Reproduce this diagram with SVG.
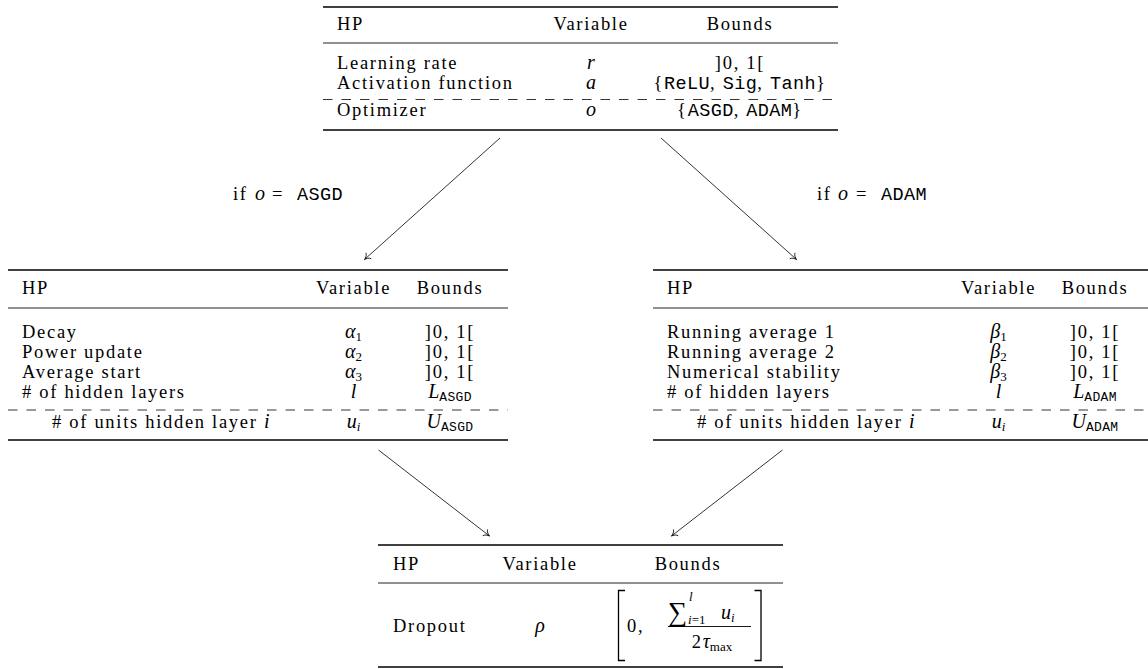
<svg xmlns="http://www.w3.org/2000/svg" width="1148" height="669" viewBox="0 0 1148 669">
  <style>
    .t { font-family: "Liberation Serif", "Times New Roman", serif; font-size: 18.5px; letter-spacing: 1.7px; fill: #000; }
    .m { font-style: italic; letter-spacing: 0; font-size: 20px; }
    .tt { font-family: "Liberation Mono", "Courier New", monospace; font-size: 18.5px; letter-spacing: 0.4px; font-style: normal; }
    .sub { font-size: 13px; letter-spacing: 0; }
    .up { font-style: normal; }
    .ttsub { font-family: "Liberation Mono", "Courier New", monospace; font-size: 13px; letter-spacing: 0.3px; font-style: normal; }
    .c { text-anchor: middle; }
    .heavy { stroke: #000; stroke-width: 1.6; fill: none; }
    .light { stroke: #222; stroke-width: 1; fill: none; }
    .dash { stroke: #000; stroke-width: 0.8; stroke-dasharray: 9.5 9; fill: none; }
    .edge { stroke: #000; stroke-width: 0.8; fill: none; marker-end: url(#arrow); }
    .delim { stroke: #000; stroke-width: 1.3; fill: none; }
  </style>
  <defs>
    <marker id="arrow" viewBox="-7 -5 8 10" refX="0" refY="0" markerWidth="8" markerHeight="10" markerUnits="userSpaceOnUse" orient="auto" overflow="visible">
      <path d="M -5.5 -4 C -5 -1.8 -1.8 -0.4 0 0 C -1.8 0.4 -5 1.8 -5.5 4" fill="none" stroke="#000" stroke-width="0.8"/>
    </marker>
  </defs>
  <rect width="1148" height="669" fill="#fff"/>

  <!-- shared hyperparameters -->
  <g id="table-base">
    <line class="heavy" x1="323" y1="7" x2="838" y2="7"/>
    <text class="t" x="337" y="30">HP</text>
    <text class="t c" x="591" y="30">Variable</text>
    <text class="t c" x="740" y="30">Bounds</text>
    <line class="light" x1="323" y1="43" x2="838" y2="43"/>
    <text class="t" x="337" y="69">Learning rate</text>
    <text class="t m c" x="591" y="69">r</text>
    <text class="t c" x="740" y="69">]0, 1[</text>
    <text class="t" x="337" y="89">Activation function</text>
    <text class="t m c" x="591" y="89">a</text>
    <text class="t c" x="740" y="89">{<tspan class="tt">ReLU</tspan>, <tspan class="tt">Sig</tspan>, <tspan class="tt">Tanh</tspan>}</text>
    <line class="dash" x1="323" y1="99.5" x2="838" y2="99.5"/>
    <text class="t" x="337" y="116">Optimizer</text>
    <text class="t m c" x="591" y="116">o</text>
    <text class="t c" x="740" y="116">{<tspan class="tt">ASGD</tspan>, <tspan class="tt">ADAM</tspan>}</text>
    <line class="heavy" x1="323" y1="130" x2="838" y2="130"/>
  </g>

  <!-- ASGD branch -->
  <g id="table-asgd">
    <line class="heavy" x1="8" y1="270" x2="508" y2="270"/>
    <text class="t" x="22" y="294">HP</text>
    <text class="t c" x="353.5" y="294">Variable</text>
    <text class="t c" x="450" y="294">Bounds</text>
    <line class="light" x1="8" y1="308" x2="508" y2="308"/>
    <text class="t" x="22" y="338">Decay</text>
    <text class="t m c" x="353.5" y="338">α<tspan class="sub up" dy="3">1</tspan></text>
    <text class="t c" x="450" y="338">]0, 1[</text>
    <text class="t" x="22" y="358">Power update</text>
    <text class="t m c" x="353.5" y="358">α<tspan class="sub up" dy="3">2</tspan></text>
    <text class="t c" x="450" y="358">]0, 1[</text>
    <text class="t" x="22" y="378">Average start</text>
    <text class="t m c" x="353.5" y="378">α<tspan class="sub up" dy="3">3</tspan></text>
    <text class="t c" x="450" y="378">]0, 1[</text>
    <text class="t" x="22" y="398"># of hidden layers</text>
    <text class="t m c" x="353.5" y="398">l</text>
    <text class="t m c" x="450" y="398">L<tspan class="ttsub" dy="3">ASGD</tspan></text>
    <line class="dash" x1="8" y1="410" x2="508" y2="410"/>
    <text class="t" x="52" y="428"># of units hidden layer <tspan class="m">i</tspan></text>
    <text class="t m c" x="353.5" y="428">u<tspan class="sub" dy="3">i</tspan></text>
    <text class="t m c" x="450" y="428">U<tspan class="ttsub" dy="3">ASGD</tspan></text>
    <line class="heavy" x1="8" y1="440" x2="508" y2="440"/>
  </g>

  <!-- ADAM branch -->
  <g id="table-adam">
    <line class="heavy" x1="653" y1="270" x2="1153" y2="270"/>
    <text class="t" x="667" y="294">HP</text>
    <text class="t c" x="998.5" y="294">Variable</text>
    <text class="t c" x="1095" y="294">Bounds</text>
    <line class="light" x1="653" y1="308" x2="1153" y2="308"/>
    <text class="t" x="667" y="338">Running average 1</text>
    <text class="t m c" x="998.5" y="338">β<tspan class="sub up" dy="3">1</tspan></text>
    <text class="t c" x="1095" y="338">]0, 1[</text>
    <text class="t" x="667" y="358">Running average 2</text>
    <text class="t m c" x="998.5" y="358">β<tspan class="sub up" dy="3">2</tspan></text>
    <text class="t c" x="1095" y="358">]0, 1[</text>
    <text class="t" x="667" y="378">Numerical stability</text>
    <text class="t m c" x="998.5" y="378">β<tspan class="sub up" dy="3">3</tspan></text>
    <text class="t c" x="1095" y="378">]0, 1[</text>
    <text class="t" x="667" y="398"># of hidden layers</text>
    <text class="t m c" x="998.5" y="398">l</text>
    <text class="t m c" x="1095" y="398">L<tspan class="ttsub" dy="3">ADAM</tspan></text>
    <line class="dash" x1="653" y1="410" x2="1153" y2="410"/>
    <text class="t" x="697" y="428"># of units hidden layer <tspan class="m">i</tspan></text>
    <text class="t m c" x="998.5" y="428">u<tspan class="sub" dy="3">i</tspan></text>
    <text class="t m c" x="1095" y="428">U<tspan class="ttsub" dy="3">ADAM</tspan></text>
    <line class="heavy" x1="653" y1="440" x2="1153" y2="440"/>
  </g>

  <!-- common dropout parameter -->
  <g id="table-dropout">
    <line class="heavy" x1="378" y1="545" x2="783" y2="545"/>
    <text class="t" x="393" y="570">HP</text>
    <text class="t c" x="540" y="570">Variable</text>
    <text class="t c" x="688" y="570">Bounds</text>
    <line class="light" x1="378" y1="583" x2="783" y2="583"/>
    <text class="t" x="393" y="632">Dropout</text>
    <text class="t m c" x="540" y="632">ρ</text>
    <polyline class="delim" points="625,590.5 618.5,590.5 618.5,660.5 625,660.5"/>
    <text class="t" x="627" y="632">0,</text>
    <text class="t" x="668" y="621" style="font-size:27px;letter-spacing:0">∑</text>
    <text class="t m sub" x="689" y="601">l</text>
    <text class="t sub" x="688" y="624"><tspan class="m sub">i</tspan>=1</text>
    <text class="t m" x="721" y="619">u<tspan class="sub" dy="3">i</tspan></text>
    <line stroke="#000" stroke-width="0.9" x1="668" y1="626.5" x2="751" y2="626.5"/>
    <text class="t c" x="712" y="648">2<tspan class="m">τ</tspan><tspan class="sub" dy="3">max</tspan></text>
    <polyline class="delim" points="754.5,590.5 761,590.5 761,660.5 754.5,660.5"/>
    <line class="heavy" x1="378" y1="667" x2="783" y2="667"/>
  </g>

  <!-- connectors with their conditions -->
  <g id="connectors">
    <line class="edge" x1="500" y1="138" x2="364.5" y2="259.5"/>
    <line class="edge" x1="661" y1="138" x2="796.5" y2="259.5"/>
    <line class="edge" x1="378.5" y1="450" x2="489.5" y2="536"/>
    <line class="edge" x1="782.5" y1="450" x2="671.5" y2="536"/>
    <text class="t" y="200"><tspan x="233">if</tspan><tspan class="m" x="255">o</tspan><tspan x="272">=</tspan><tspan class="tt" x="297">ASGD</tspan></text>
    <text class="t" y="200"><tspan x="817">if</tspan><tspan class="m" x="838">o</tspan><tspan x="856">=</tspan><tspan class="tt" x="881">ADAM</tspan></text>
  </g>
</svg>
